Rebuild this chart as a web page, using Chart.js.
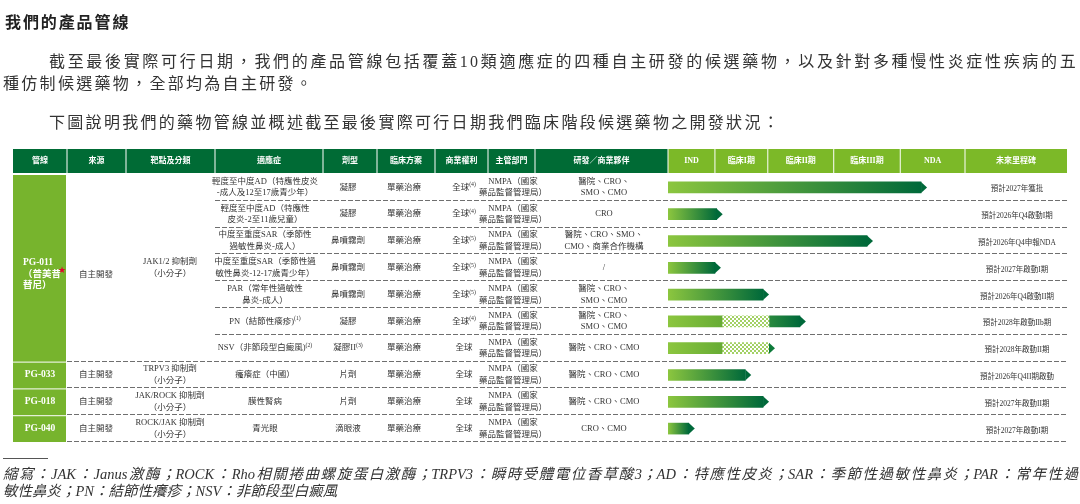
<!DOCTYPE html>
<html lang="zh-Hant">
<head>
<meta charset="utf-8">
<title>我們的產品管線</title>
<script src="https://cdn.jsdelivr.net/npm/chart.js@4.4.1/dist/chart.umd.min.js"></script>
<style>
  html, body { margin: 0; padding: 0; background: #fff; }
  #page { position: relative; width: 1080px; height: 504px; overflow: hidden; }
  #pipeline { position: absolute; left: 0; top: 0; }
  .txt { position: absolute; font-family: "Liberation Serif", "Noto Sans CJK TC", serif; color: #333; white-space: nowrap; }
  .title { left: 5px; top: 10px; font: bold 16px/22px "Noto Sans CJK TC", sans-serif; letter-spacing: 1.9px; color: #222; }
  .para { font-size: 16px; line-height: 22px; letter-spacing: 2.3px; }
  .just { white-space: normal; text-align: justify; text-align-last: justify; }
  .note { font-size: 14.5px; line-height: 17px; font-style: italic; color: #333; }
  .rule { position: absolute; left: 3px; top: 458px; width: 45px; height: 0; border-top: 1px solid #555; }
</style>
</head>
<body>
<div id="page">
  <canvas id="pipeline" width="1080" height="504"></canvas>
  <div class="txt title">我們的產品管線</div>
  <div class="txt para just" style="left:49px; top:51px; width:1029px;">截至最後實際可行日期，我們的產品管線包括覆蓋10類適應症的四種自主研發的候選藥物，以及針對多種慢性炎症性疾病的五</div>
  <div class="txt para" style="left:3px; top:73px;">種仿制候選藥物，全部均為自主研發。</div>
  <div class="txt para" style="left:49px; top:112px;">下圖說明我們的藥物管線並概述截至最後實際可行日期我們臨床階段候選藥物之開發狀況：</div>
  <div class="rule"></div>
  <div class="txt note just" style="left:3px; top:466px; width:1075px;">縮寫：JAK：Janus激酶；ROCK：Rho相關捲曲螺旋蛋白激酶；TRPV3：瞬時受體電位香草酸3；AD：特應性皮炎；SAR：季節性過敏性鼻炎；PAR：常年性過</div>
  <div class="txt note" style="left:3px; top:483px;">敏性鼻炎；PN：結節性癢疹；NSV：非節段型白癜風</div>
</div>
<script>
// ヘッダー
const headerLabels = ['管線', '來源', '靶點及分類', '適應症', '劑型', '臨床方案', '商業權利', '主管部門', '研發／商業夥伴'];
const phases = ['IND', '臨床I期', '臨床II期', '臨床III期', 'NDA'];
const milestoneHeader = '未來里程碑';
// 各段階の境界（x軸の値）
const phaseEdges = [0, 0.79, 1.68, 2.79, 3.91, 5];

// 候補薬
const candidates = ['PG-011\n（普美昔\n替尼）', 'PG-033', 'PG-018', 'PG-040'];
const candidateRows = [7, 1, 1, 1];
const sources = ['自主開發', '自主開發', '自主開發', '自主開發'];
const targets = ['JAK1/2 抑制劑\n（小分子）', 'TRPV3 抑制劑\n（小分子）', 'JAK/ROCK 抑制劑\n（小分子）', 'ROCK/JAK 抑制劑\n（小分子）'];

// 適應症ごとの行
const indications = [
    '輕度至中度AD（特應性皮炎\n-成人及12至17歲青少年）',
    '輕度至中度AD（特應性\n皮炎-2至11歲兒童）',
    '中度至重度SAR（季節性\n過敏性鼻炎-成人）',
    '中度至重度SAR（季節性過\n敏性鼻炎-12-17歲青少年）',
    'PAR（常年性過敏性\n鼻炎-成人）',
    'PN（結節性癢疹)^(1)',
    'NSV（非節段型白癜風)^(2)',
    '瘙癢症（中國）',
    '膜性腎病',
    '青光眼'
];
const dosageForms = ['凝膠', '凝膠', '鼻噴霧劑', '鼻噴霧劑', '鼻噴霧劑', '凝膠', '凝膠II^(3)', '片劑', '片劑', '滴眼液'];
const regimens = ['單藥治療', '單藥治療', '單藥治療', '單藥治療', '單藥治療', '單藥治療', '單藥治療', '單藥治療', '單藥治療', '單藥治療'];
const rights = ['全球^(4)', '全球^(4)', '全球^(5)', '全球^(5)', '全球^(5)', '全球^(4)', '全球', '全球', '全球', '全球'];
const authorities = [
    'NMPA（國家\n藥品監督管理局）', 'NMPA（國家\n藥品監督管理局）', 'NMPA（國家\n藥品監督管理局）',
    'NMPA（國家\n藥品監督管理局）', 'NMPA（國家\n藥品監督管理局）', 'NMPA（國家\n藥品監督管理局）',
    'NMPA（國家\n藥品監督管理局）', 'NMPA（國家\n藥品監督管理局）', 'NMPA（國家\n藥品監督管理局）',
    'NMPA（國家\n藥品監督管理局）'
];
const partners = [
    '醫院、CRO、\nSMO、CMO', 'CRO', '醫院、CRO、SMO、\nCMO、商業合作機構', '/',
    '醫院、CRO、\nSMO、CMO', '醫院、CRO、\nSMO、CMO', '醫院、CRO、CMO',
    '醫院、CRO、CMO', '醫院、CRO、CMO', 'CRO、CMO'
];
const milestones = [
    '預計2027年獲批', '預計2026年Q4啟動I期', '預計2026年Q4申報NDA', '預計2027年啟動I期',
    '預計2026年Q4啟動II期', '預計2028年啟動IIb期', '預計2028年啟動II期',
    '預計2026年Q4II期啟動', '預計2027年啟動II期', '預計2027年啟動I期'
];

// 進捗バー（x軸の値）
const solidEnd = [4.26, 0.82, 3.35, 0.79, 1.60, 0.91, 0.91, 1.30, 1.60, 0.35];
const checkerEnd = [null, null, null, null, null, 1.70, 1.70, null, null, null];
const darkEnd = [null, null, null, null, null, 2.22, null, null, null, null];

// 表のレイアウト
const FONT = '"Liberation Serif", "Noto Sans CJK TC", serif';
const COLS = [13, 67, 126, 215, 323, 377, 435, 488, 535, 668];
const TABLE_RIGHT = 1067;
const BODY_X = [40, 96, 170, 265, 348, 404, 464, 513, 604];
const MILESTONE_X = 1017;
const HEADER_DARK = '#006b35';
const HEADER_LIGHT = '#7cb928';
const CELL_GREEN = '#77b42d';
const TIP_W = 6;

function drawLines(ctx, str, x, y, size, lineH, align) {
    const lines = str.split('\n');
    const y0 = y - (lines.length - 1) * lineH / 2;
    lines.forEach((line, i) => drawOne(ctx, line, x, y0 + i * lineH, size, align));
}

// '^' 以降は上付き文字
function drawOne(ctx, str, x, y, size, align) {
    const parts = str.split('^');
    const main = parts[0];
    const sup = parts[1] || '';
    const supSize = size * 0.68;
    const font = ctx.font.startsWith('bold') ? 'bold ' : '';
    ctx.font = `${font}${size}px ${FONT}`;
    const wMain = ctx.measureText(main).width;
    ctx.font = `${supSize}px ${FONT}`;
    const wSup = sup ? ctx.measureText(sup).width : 0;
    const sx = align === 'left' ? x : x - (wMain + wSup) / 2;
    ctx.textAlign = 'left';
    ctx.font = `${font}${size}px ${FONT}`;
    ctx.fillText(main, sx, y);
    if (sup) {
        ctx.font = `${supSize}px ${FONT}`;
        ctx.fillText(sup, sx + wMain, y - size * 0.3);
    }
    return wMain + wSup;
}

const tablePlugin = {
    id: 'pipelineTable',
    beforeDatasetsDraw(chart) {
        const ctx = chart.ctx;
        const area = chart.chartArea;
        const xs = chart.scales.x;
        const ys = chart.scales.y;
        const rowH = (area.bottom - area.top) / indications.length;
        const hTop = area.top - 25;
        const hH = 24;
        const rowY = i => ys.getPixelForValue(i);

        ctx.save();
        ctx.textBaseline = 'middle';

        // ヘッダー背景
        ctx.fillStyle = HEADER_DARK;
        ctx.fillRect(COLS[0], hTop, area.left - COLS[0], hH);
        ctx.fillStyle = HEADER_LIGHT;
        ctx.fillRect(area.left, hTop, TABLE_RIGHT - area.left, hH);

        const phaseX = phaseEdges.map(v => xs.getPixelForValue(v));
        ctx.fillStyle = '#fff';
        COLS.slice(1).concat(phaseX.slice(1)).forEach(x => ctx.fillRect(x - 0.5, hTop, 1, hH));

        // ヘッダー文字
        ctx.font = `bold 8px ${FONT}`;
        ctx.fillStyle = '#fff';
        headerLabels.forEach((label, i) => drawOne(ctx, label, (COLS[i] + COLS[i + 1]) / 2, hTop + hH / 2, 8));
        phases.forEach((label, i) => drawOne(ctx, label, (phaseX[i] + phaseX[i + 1]) / 2, hTop + hH / 2, 8));
        drawOne(ctx, milestoneHeader, (phaseX[phaseX.length - 1] + TABLE_RIGHT) / 2, hTop + hH / 2, 8);

        // 候補薬のセル
        let start = 0;
        candidates.forEach((name, c) => {
            const n = candidateRows[c];
            const top = area.top + start * rowH;
            const bottom = top + n * rowH;
            const mid = (top + bottom) / 2;
            ctx.fillStyle = CELL_GREEN;
            ctx.fillRect(COLS[0], top + 1, COLS[1] - COLS[0] - 1, bottom - top - 1);

            ctx.fillStyle = '#fff';
            ctx.font = `bold 9.5px ${FONT}`;
            const lines = name.split('\n');
            if (lines.length > 1) {
                lines.forEach((line, k) => {
                    ctx.font = `bold 9.5px ${FONT}`;
                    const w = drawOne(ctx, line, 23, mid - 5 + k * 11.5, 9.5, 'left');
                    if (k === 1) {
                        ctx.fillStyle = '#e4002b';
                        ctx.font = `9px "DejaVu Sans", sans-serif`;
                        ctx.fillText('★', 23 + w - 3, mid - 5 + k * 11.5 - 4);
                        ctx.fillStyle = '#fff';
                    }
                });
            } else {
                drawOne(ctx, name, BODY_X[0], mid, 9.5);
            }

            ctx.fillStyle = '#333';
            ctx.font = `8.5px ${FONT}`;
            const off = n > 1 ? 7 : 0;
            drawOne(ctx, sources[c], BODY_X[1], mid + off, 8.5);
            ctx.font = `8.5px ${FONT}`;
            drawLines(ctx, targets[c], BODY_X[2], mid, 8.5, 11.5);
            start += n;
        });

        // 行の区切り線（破線）
        ctx.strokeStyle = '#6f6f6f';
        ctx.lineWidth = 1;
        ctx.setLineDash([5, 2]);
        const groupEnds = [];
        candidateRows.reduce((acc, n) => { groupEnds.push(acc + n); return acc + n; }, 0);
        for (let i = 1; i <= indications.length; i++) {
            const y = Math.round(area.top + i * rowH) - 0.5;
            const x0 = groupEnds.includes(i) ? COLS[1] : COLS[3];
            ctx.beginPath();
            ctx.moveTo(x0, y);
            ctx.lineTo(TABLE_RIGHT, y);
            ctx.stroke();
        }
        ctx.setLineDash([]);

        // 各行の文字
        ctx.fillStyle = '#333';
        indications.forEach((text, i) => {
            const y = rowY(i);
            const cells = [text, dosageForms[i], regimens[i], rights[i], authorities[i], partners[i]];
            cells.forEach((cell, k) => {
                ctx.font = `8.5px ${FONT}`;
                drawLines(ctx, cell, BODY_X[k + 3], y, 8.5, 11.5);
            });
            ctx.font = `7.5px ${FONT}`;
            drawOne(ctx, milestones[i], MILESTONE_X, y + 2, 7.5);
        });
        ctx.restore();
    },
    afterDatasetsDraw(chart) {
        // 矢印の先端
        const ctx = chart.ctx;
        ctx.save();
        indications.forEach((_, i) => {
            let di = 0;
            if (darkEnd[i] !== null) di = 2;
            else if (checkerEnd[i] !== null) di = 1;
            const el = chart.getDatasetMeta(di).data[i];
            if (!el) return;
            const p = el.getProps(['x', 'y', 'height'], true);
            ctx.fillStyle = di === 1 ? '#0d7a3a' : '#00693a';
            ctx.beginPath();
            ctx.moveTo(p.x, p.y - p.height / 2);
            ctx.lineTo(p.x + TIP_W, p.y);
            ctx.lineTo(p.x, p.y + p.height / 2);
            ctx.closePath();
            ctx.fill();
        });
        ctx.restore();
    }
};

// グラデーション
function barGradient(context, from, to) {
    const chart = context.chart;
    const raw = context.raw;
    if (!chart.chartArea || !Array.isArray(raw)) return from;
    const xs = chart.scales.x;
    const x0 = xs.getPixelForValue(raw[0]);
    const x1 = xs.getPixelForValue(raw[1]);
    const g = chart.ctx.createLinearGradient(x0, 0, x1, 0);
    g.addColorStop(0, from);
    g.addColorStop(1, to);
    return g;
}

// 市松模様
let checkerPattern = null;
function getChecker(ctx) {
    if (checkerPattern) return checkerPattern;
    const c = document.createElement('canvas');
    c.width = 4;
    c.height = 4;
    const p = c.getContext('2d');
    p.fillStyle = '#ffffff';
    p.fillRect(0, 0, 4, 4);
    p.fillStyle = '#a3d165';
    p.fillRect(0, 0, 2, 2);
    p.fillRect(2, 2, 2, 2);
    checkerPattern = ctx.createPattern(c, 'repeat');
    return checkerPattern;
}

window.onload = function() {
    const ctx = document.getElementById('pipeline').getContext('2d');

    new Chart(ctx, {
        type: 'bar',
        data: {
            labels: indications,
            datasets: [
                {
                    label: '已完成',
                    data: solidEnd.map(v => [0, v]),
                    backgroundColor: c => {
                        const i = c.dataIndex;
                        return checkerEnd[i] !== null
                            ? barGradient(c, '#8cc63f', '#67ac35')
                            : barGradient(c, '#8cc63f', '#00693a');
                    }
                },
                {
                    label: '進行中',
                    data: checkerEnd.map((v, i) => v === null ? null : [solidEnd[i], v]),
                    backgroundColor: c => getChecker(c.chart.ctx)
                },
                {
                    label: '計劃',
                    data: darkEnd.map((v, i) => v === null ? null : [checkerEnd[i], v]),
                    backgroundColor: c => barGradient(c, '#2a8a3e', '#00693a')
                }
            ]
        },
        options: {
            indexAxis: 'y',
            responsive: false,
            animation: false,
            datasets: {
                bar: { grouped: false, barThickness: 11, borderWidth: 0 }
            },
            layout: {
                padding: { left: 668, right: 115, top: 174, bottom: 62 }
            },
            scales: {
                x: { type: 'linear', min: 0, max: 5, display: false },
                y: { type: 'category', display: false, offset: true }
            },
            plugins: {
                legend: { display: false },
                tooltip: { enabled: false }
            }
        },
        plugins: [tablePlugin]
    });
};
</script>
</body>
</html>
